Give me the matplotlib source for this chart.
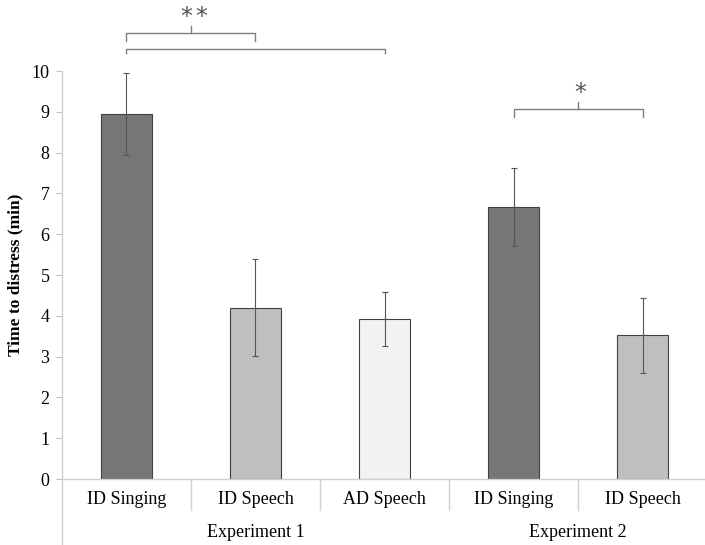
import numpy as np
import matplotlib.pyplot as plt

# data
conditions = ["ID Singing", "ID Speech", "AD Speech", "ID Singing", "ID Speech"]
experiments = ["Experiment 1", "Experiment 2"]
exp_span = [(0, 2), (3, 4)]
means = [8.95, 4.20, 3.92, 6.67, 3.52]
errors = [1.01, 1.19, 0.67, 0.96, 0.92]
bar_colors = ["#767676", "#bfbfbf", "#f2f2f2", "#767676", "#bfbfbf"]

# significance brackets: (left bar, right bar, line level, number of stars)
brackets = [(0, 1, 10.93, 2), (0, 2, 10.55, 0), (3, 4, 9.07, 1)]

plt.rcParams['font.family'] = ['Liberation Serif', 'DejaVu Serif']

fig = plt.figure(figsize=(7.05, 5.45), dpi=100)
ax = fig.add_axes([0.0879, 0.1211, 0.915, 0.7486])

x = np.arange(len(means))
ax.bar(x, means, width=0.40, color=bar_colors, edgecolor="#404040", linewidth=0.8, zorder=2)
ax.errorbar(x, means, yerr=errors, fmt="none", ecolor="#555555", elinewidth=0.8,
            capsize=2, capthick=0.8, zorder=3)

ax.set_xlim(-0.5, 4.5)
ax.set_ylim(0, 10)
ax.set_yticks(range(0, 11))
ax.tick_params(axis="y", labelsize=13, length=4, color="#bfbfbf", width=0.8, pad=5)
ax.set_xticks([])
ax.set_ylabel("Time to distress (min)", fontsize=12.5, fontweight="bold", labelpad=6)

for side in ["top", "right"]:
    ax.spines[side].set_visible(False)
ax.spines["left"].set_color("#d0d0d0")
ax.spines["bottom"].set_color("#d0d0d0")
ax.spines["left"].set_linewidth(1.0)
ax.spines["bottom"].set_linewidth(1.0)

# two-level category axis
trans = ax.get_xaxis_transform()
for i, lab in enumerate(conditions):
    ax.text(i, -0.05, lab, transform=trans, ha="center", va="center", fontsize=13)
for b in [0.5, 1.5, 2.5, 3.5]:
    ax.plot([b, b], [0, -0.077], transform=trans, color="#d0d0d0", lw=1.0, clip_on=False)
ax.plot([-0.5, -0.5], [0, -0.2], transform=trans, color="#d0d0d0", lw=1.0, clip_on=False)
for name, (a, b) in zip(experiments, exp_span):
    ax.text((a + b) / 2, -0.13, name, transform=trans, ha="center", va="center", fontsize=13)

# significance brackets
for a, b, level, stars in brackets:
    drop = 0.2 if stars else 0.12
    ax.plot([a, a, b, b], [level - drop, level, level, level - drop],
            color="#7f7f7f", lw=1.0, clip_on=False)
    if stars:
        mid = (a + b) / 2
        ax.plot([mid, mid], [level, level + 0.17], color="#7f7f7f", lw=1.0, clip_on=False)
        offsets = (np.arange(stars) - (stars - 1) / 2) * 0.115
        for off in offsets:
            ax.text(mid + 0.02 + off, level + 0.1, "*", ha="center", va="bottom", fontsize=17,
                    color="#555555", family=["DejaVu Sans"])

fig.savefig("out.png", dpi=100)
